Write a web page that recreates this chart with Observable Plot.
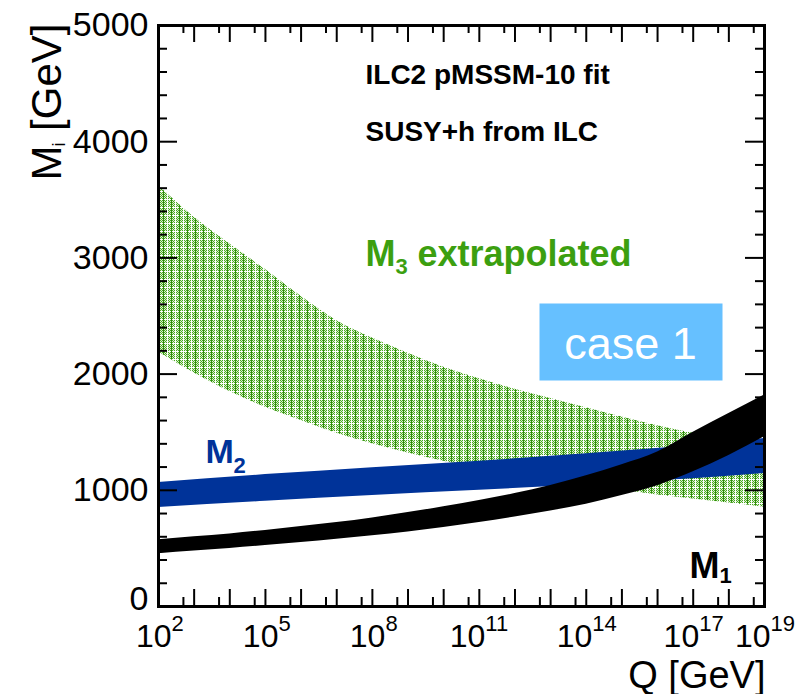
<!DOCTYPE html>
<html>
<head>
<meta charset="utf-8">
<script src="https://cdn.jsdelivr.net/npm/d3@7"></script>
<script src="https://cdn.jsdelivr.net/npm/@observablehq/plot@0.6"></script>
<style>
  html, body { margin: 0; padding: 0; background: #fff; }
</style>
</head>
<body>
<div id="chart"></div>
<script>
// ---- data ----
// log10(Q/GeV) sample points and band edges in GeV
const m3Exp = [2,3,4,5,6,7,8,9,10,11,12,13,14,15,16,17,18,19];
const m3Lo  = [2190,2010,1850,1715,1600,1490,1400,1320,1250,1190,1135,1085,1040,1000,960,925,890,855];
const m3Hi  = [3620,3350,3120,2900,2670,2460,2310,2180,2060,1960,1870,1790,1710,1630,1555,1490,1440,1400];

const m2Exp = [2,5,8,11,14,17,19];
const m2Lo  = [852,905,955,1000,1050,1100,1145];
const m2Hi  = [1067,1135,1195,1250,1315,1385,1445];

const m1Exp = [2,3,4,5,6,7,8,9,10,11,12,13,14,15,16,17,18,19];
const m1Lo  = [455,478,500,524,550,578,608,642,680,723,770,822,880,955,1040,1160,1300,1460];
const m1Hi  = [575,600,625,655,688,722,762,808,858,912,972,1042,1125,1220,1330,1500,1660,1820];

// axis ticks / labels
const xLabelExp = [2,5,8,11,14,17,19];
const xDecadeExp = d3.range(2, 20);
const xFiveExp = d3.range(2, 19);
const yLabels = [0,1000,2000,3000,4000,5000];
const yMinor = d3.range(0, 5001, 200);
const infoLines = ["ILC2 pMSSM-10 fit", "SUSY+h from ILC"];
const caseLabel = ["case 1"];

// ---- tables ----
const band = (e, lo, hi) => e.map((k, i) => ({q: 10 ** k, lo: lo[i], hi: hi[i]}));
const m3 = band(m3Exp, m3Lo, m3Hi);
const m2 = band(m2Exp, m2Lo, m2Hi);
const m1 = band(m1Exp, m1Lo, m1Hi);
const decades = xDecadeExp.map(e => 10 ** e);
const fives = xFiveExp.map(e => 5 * 10 ** e);
const yMajor = yLabels;
const yMin = yMinor.filter(v => v % 1000 !== 0);
const xl1 = xLabelExp.filter(e => String(e).length === 1).map(e => ({q: 10 ** e, e}));
const xl2 = xLabelExp.filter(e => String(e).length === 2).map(e => ({q: 10 ** e, e}));

const W = 796, H = 694;
const mL = 158, mR = 32, mT = 25, mB = 88;
const PH = H - mT - mB, PW = W - mL - mR;
const FONT = "'Liberation Sans', Arial, Helvetica, sans-serif";
const one = [0];

const tx = (txt, o) => Plot.text(one, {text: () => txt, frameAnchor: "top-left", lineAnchor: "bottom", textAnchor: "start", ...o});

const svg = Plot.plot({
  width: W, height: H,
  marginLeft: mL, marginRight: mR, marginTop: mT, marginBottom: mB,
  style: {fontFamily: FONT, background: "#fff", color: "#000"},
  x: {type: "log", domain: [1e2, 1e19], axis: null},
  y: {domain: [0, 5000], axis: null},
  marks: [
    // bands
    Plot.areaY(m3, {x: "q", y1: "lo", y2: "hi", fill: "url(#hatch)", curve: "monotone-x"}),
    Plot.areaY(m2, {x: "q", y1: "lo", y2: "hi", fill: "#003399", curve: "monotone-x"}),
    Plot.areaY(m1, {x: "q", y1: "lo", y2: "hi", fill: "#000", curve: "monotone-x"}),
    // case box
    Plot.frame({fill: "#66c0ff", stroke: null, insetLeft: 381, insetRight: 42, insetTop: 278, insetBottom: 226}),
    tx(caseLabel[0], {dx: 472, dy: 333, textAnchor: "middle", fill: "#fff", fontSize: 45}),
    // ticks: x bottom / top
    Plot.tickX(decades, {x: d => d, insetTop: PH - 17, strokeWidth: 2}),
    Plot.tickX(fives, {x: d => d, insetTop: PH - 9, strokeWidth: 2}),
    Plot.tickX(decades, {x: d => d, insetBottom: PH - 17, strokeWidth: 2}),
    Plot.tickX(fives, {x: d => d, insetBottom: PH - 8, strokeWidth: 2}),
    // ticks: y left / right
    Plot.tickY(yMajor, {y: d => d, insetRight: PW - 19, strokeWidth: 2}),
    Plot.tickY(yMin, {y: d => d, insetRight: PW - 9, strokeWidth: 2}),
    Plot.tickY(yMajor, {y: d => d, insetLeft: PW - 19, strokeWidth: 2}),
    Plot.tickY(yMin, {y: d => d, insetLeft: PW - 9, strokeWidth: 2}),
    Plot.frame({stroke: "#000", strokeWidth: 3}),
    // y tick labels (the zero label sits a little higher to clear the x labels)
    Plot.text(yLabels.filter(d => d > 0), {y: d => d, text: d => String(d), frameAnchor: "left", textAnchor: "end", dx: -10, fontSize: 34}),
    Plot.text(yLabels.filter(d => d === 0), {y: d => d, text: d => String(d), frameAnchor: "left", textAnchor: "end", dx: -10, dy: -7, fontSize: 34}),
    // x tick labels: 10 + superscript exponent
    Plot.text(xl1, {x: "q", text: () => "10", frameAnchor: "bottom", lineAnchor: "bottom", textAnchor: "end", dx: 13, dy: 40, fontSize: 32}),
    Plot.text(xl1, {x: "q", text: d => String(d.e), frameAnchor: "bottom", lineAnchor: "bottom", textAnchor: "start", dx: 13, dy: 24, fontSize: 22}),
    Plot.text(xl2, {x: "q", text: () => "10", frameAnchor: "bottom", lineAnchor: "bottom", textAnchor: "end", dx: 6, dy: 40, fontSize: 32}),
    Plot.text(xl2, {x: "q", text: d => String(d.e), frameAnchor: "bottom", lineAnchor: "bottom", textAnchor: "start", dx: 6, dy: 24, fontSize: 22}),
    // axis titles
    Plot.text(one, {text: () => "Q [GeV]", frameAnchor: "bottom-right", lineAnchor: "bottom", textAnchor: "end", dx: 1, dy: 81, fontSize: 38}),
    tx("M", {rotate: -90, dx: -98, dy: 155, fontSize: 42}),
    tx("i", {rotate: -90, dx: -94, dy: 121, fontSize: 18}),
    tx(" [GeV]", {rotate: -90, textAnchor: "end", dx: -98, dy: -2, fontSize: 42}),
    // annotations
    tx(infoLines[0], {dx: 207, dy: 58, fontSize: 28, fontWeight: "bold"}),
    tx(infoLines[1], {dx: 207, dy: 115, fontSize: 28, fontWeight: "bold"}),
    tx("M", {dx: 207, dy: 240, fontSize: 36, fontWeight: "bold", fill: "#3c9f10"}),
    tx("3", {dx: 237, dy: 248, fontSize: 22, fontWeight: "bold", fill: "#3c9f10"}),
    tx("extrapolated", {dx: 259, dy: 240, fontSize: 36, fontWeight: "bold", fill: "#3c9f10"}),
    tx("M", {dx: 47, dy: 437, fontSize: 34, fontWeight: "bold", fill: "#003399"}),
    tx("2", {dx: 75, dy: 447, fontSize: 22, fontWeight: "bold", fill: "#003399"}),
    tx("M", {dx: 531, dy: 552, fontSize: 36, fontWeight: "bold", fill: "#000"}),
    tx("1", {dx: 561, dy: 557, fontSize: 22, fontWeight: "bold", fill: "#000"})
  ]
});

// hatch pattern for the M3 band
const ns = "http://www.w3.org/2000/svg";
const defs = document.createElementNS(ns, "defs");
defs.innerHTML =
  '<pattern id="chk" width="2" height="2" patternUnits="userSpaceOnUse">' +
  '<rect width="2" height="2" fill="#dcf0cf"/>' +
  '<rect width="1" height="1" fill="#49a822"/><rect x="1" y="1" width="1" height="1" fill="#49a822"/></pattern>' +
  '<pattern id="hatch" width="8" height="8" patternUnits="userSpaceOnUse">' +
  '<rect width="8" height="8" fill="url(#chk)"/>' +
  '<rect y="7" width="8" height="1" fill="#ffffff"/>' +
  '<rect x="7" width="1" height="8" fill="#ffffff"/>' +
  '<rect x="3" width="1" height="8" fill="#2f8c0a"/></pattern>';
svg.insertBefore(defs, svg.firstChild);

document.getElementById("chart").appendChild(svg);
</script>
</body>
</html>
